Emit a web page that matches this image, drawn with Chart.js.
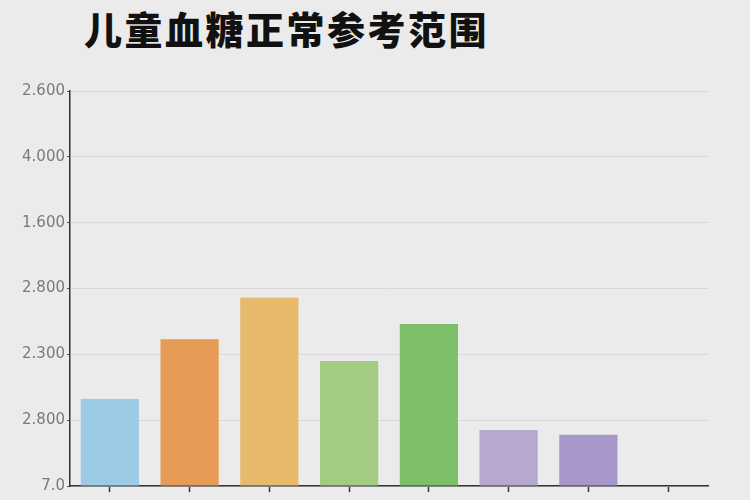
<!DOCTYPE html>
<html>
<head>
<meta charset="utf-8">
<script src="https://cdn.jsdelivr.net/npm/chart.js@4.4.1/dist/chart.umd.min.js"></script>
<style>
  html, body { margin: 0; padding: 0; background: #ebebeb; }
  #wrap { position: relative; width: 750px; height: 500px; overflow: hidden; }
  #title {
    position: absolute; left: 84px; top: 2px; margin: 0;
    font-family: "Noto Sans CJK SC", sans-serif; font-weight: 900;
    font-size: 38px; line-height: 52px; color: #111; letter-spacing: 2.5px;
  }
  #box { position: absolute; left: 0; top: 0; width: 750px; height: 500px; }
</style>
</head>
<body>
<div id="wrap">
  <h1 id="title">儿童血糖正常参考范围</h1>
  <div id="box"><canvas id="chart"></canvas></div>
</div>
<script>
// categories on the x axis (no visible names in the picture)
const categories = ["1", "2", "3", "4", "5", "6", "7", "8"];
// bar heights, in grid steps above the baseline
const values = [1.32, 2.23, 2.86, 1.90, 2.46, 0.85, 0.78, null];
const barColors = ["#9ccbe5", "#e69b57", "#e6b96b", "#a4cb82", "#7dbf68", "#b7a8d0", "#a897cb", "#cccccc"];
// y tick labels, bottom to top, as printed
const yTickLabels = ["7.0", "2.800", "2.300", "2.800", "1.600", "4.000", "2.600"];

const ctx = document.getElementById("chart").getContext("2d");

new Chart(ctx, {
  type: "bar",
  data: {
    labels: categories,
    datasets: [{
      data: values,
      backgroundColor: barColors,
      borderWidth: 0,
      categoryPercentage: 1,
      barPercentage: 0.73,
    }],
  },
  options: {
    responsive: true,
    maintainAspectRatio: false,
    animation: false,
    layout: { padding: { top: 91, right: 42, bottom: 4, left: 0 } },
    plugins: { legend: { display: false }, tooltip: { enabled: false } },
    scales: {
      x: {
        grid: {
          offset: false,
          drawOnChartArea: false,
          drawTicks: true,
          tickLength: 6,
          tickColor: "#333",
          tickWidth: 1.5,
        },
        border: { color: "#333", width: 1.5 },
        ticks: { callback: () => "", font: { size: 1 }, padding: 0 },
        afterFit: (scale) => { scale.height = 10; },
      },
      y: {
        min: 0,
        max: yTickLabels.length - 1,
        grid: {
          color: "#d9d9d9",
          lineWidth: 1,
          tickLength: 3,
          tickColor: "#555",
        },
        border: { color: "#333", width: 1.5 },
        ticks: {
          stepSize: 1,
          color: "#7a7a7a",
          padding: 2,
          font: { family: "DejaVu Sans", size: 15 },
          callback: (v) => yTickLabels[v] ?? "",
        },
        afterFit: (scale) => { scale.width = 70; },
      },
    },
  },
});
</script>
</body>
</html>
